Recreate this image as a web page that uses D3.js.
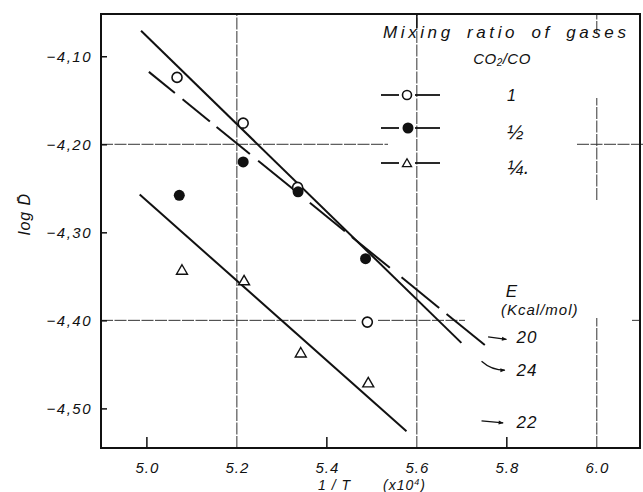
<!DOCTYPE html>
<html><head><meta charset="utf-8">
<script src="https://cdn.jsdelivr.net/npm/d3@7"></script>
<style>
html,body{margin:0;padding:0;background:#fff;}
svg{display:block;}
text{font-family:"Liberation Sans",Arial,sans-serif;font-style:italic;fill:#111;}
</style></head><body>
<svg id="chart" width="643" height="492"></svg>
<script>
// ---- data ----
const ratioLabels = ["1", "\u00BD", "\u00BC."];
const openX   = [5.067, 5.214, 5.335, 5.490];
const openY   = [-4.124, -4.176, -4.249, -4.402];
const filledX = [5.072, 5.214, 5.336, 5.486];
const filledY = [-4.258, -4.220, -4.254, -4.330];
const triX    = [5.078, 5.216, 5.342, 5.492];
const triY    = [-4.344, -4.356, -4.438, -4.472];
const lineOpenX = [4.987, 5.699];
const lineOpenY = [-4.071, -4.4256];
const lineFilledX = [5.004, 5.751];
const lineFilledY = [-4.1176, -4.428];
const lineFilledDashes = [[5.0044,5.0622],[5.0793,5.140],[5.1549,5.2289],[5.2473,5.3289],[5.3622,5.440],[5.4556,5.540],[5.566,5.6496],[5.666,5.7511]];
const lineTriX = [4.984, 5.577];
const lineTriY = [-4.257, -4.526];
const xTicks = [5.0, 5.2, 5.4, 5.6, 5.8, 6.0];
const xMinorTicks = [5.0, 5.4, 5.8];
const yTicks = [-4.1, -4.2, -4.3, -4.4, -4.5];
const xGrid = [5.2, 5.6, 6.0];
const yGrid = [-4.2, -4.4];
const energyLabels = ["20", "24", "22"];
const energyArrowX0 = [5.7584, 5.7438, 5.7438];
const energyArrowY0 = [-4.4188, -4.4464, -4.5143];
const energyArrowX1 = [5.7991, 5.7956, 5.7918];
const energyArrowY1 = [-4.4217, -4.4566, -4.5165];
const energyLabelX = 5.8216;
const energyLabelY = [-4.4259, -4.4634, -4.5225];

// ---- scales ----
const x = d3.scaleLinear().domain([4.898, 6.096]).range([101, 640]);
const y = d3.scaleLinear().domain([-4.545, -4.052]).range([448, 14]);
const svg = d3.select("#chart");

svg.append("defs").append("marker")
  .attr("id","ah").attr("viewBox","0 0 10 10").attr("refX",9).attr("refY",5)
  .attr("markerWidth",7).attr("markerHeight",5).attr("markerUnits","userSpaceOnUse")
  .attr("orient","auto")
  .append("path").attr("d","M0,1 L10,5 L0,9 Z").attr("fill","#111");

// ---- gridlines (interrupted where the reference leaves gaps) ----
const grid = svg.append("g").attr("stroke","#333").attr("stroke-width",1).attr("stroke-dasharray","12 1.5");
const [yb, yt] = y.domain();
const [xl, xr] = x.domain();
const vSegs = [
  [xGrid[0], yb, yt], [xGrid[1], yb, yt],
  [xGrid[2], yb, y.invert(318)], [xGrid[2], y.invert(200), y.invert(98)], [xGrid[2], y.invert(33), yt]
];
vSegs.forEach(s => grid.append("line").attr("x1", x(s[0])).attr("x2", x(s[0])).attr("y1", y(s[1])).attr("y2", y(s[2])));
const hSegs = [
  [yGrid[0], xl, x.invert(388)], [yGrid[0], x.invert(577), x.invert(643)],
  [yGrid[1], xl, x.invert(357)], [yGrid[1], x.invert(378), x.invert(465)], [yGrid[1], x.invert(632), xr]
];
hSegs.forEach(s => grid.append("line").attr("y1", y(s[0])).attr("y2", y(s[0])).attr("x1", x(s[1])).attr("x2", x(s[2])));

// ---- frame ----
svg.append("rect").attr("x", x.range()[0]).attr("y", y.range()[1])
  .attr("width", x.range()[1]-x.range()[0]).attr("height", y.range()[0]-y.range()[1])
  .attr("fill","none").attr("stroke","#111").attr("stroke-width",2);

// ---- axes ----
const yAxis = d3.axisLeft(y).tickValues(yTicks).tickSizeInner(-6).tickSizeOuter(0).tickPadding(9)
  .tickFormat(d => "\u2212" + Math.abs(d).toFixed(2).replace(".", ","));
const gy = svg.append("g").attr("transform", `translate(${x.range()[0]},0)`).call(yAxis);
gy.select(".domain").remove();
gy.selectAll("line").attr("stroke","#111").attr("stroke-width",1.5);
gy.selectAll("text").attr("font-size",15).attr("letter-spacing",1.5).attr("fill","#111");

const xAxis = d3.axisBottom(x).tickValues(xTicks).tickSizeInner(0).tickSizeOuter(0).tickPadding(14)
  .tickFormat(d => d.toFixed(1));
const gx = svg.append("g").attr("transform", `translate(0,${y.range()[0]})`).call(xAxis);
gx.select(".domain").remove();
gx.selectAll("text").attr("font-size",15).attr("letter-spacing",1).attr("fill","#111");
svg.append("g").selectAll("line").data(xMinorTicks).join("line")
  .attr("x1", d => x(d)).attr("x2", d => x(d)).attr("y1", y.range()[0]).attr("y2", y.range()[0]-11)
  .attr("stroke","#111").attr("stroke-width",1.5);
svg.append("line").attr("x1", x(5.6)).attr("x2", x(5.6)).attr("y1", y.range()[1]).attr("y2", y.range()[1]+14)
  .attr("stroke","#111").attr("stroke-width",1.5);

// axis titles
svg.append("text").attr("transform","translate(30,214) rotate(-90)").attr("text-anchor","middle")
  .attr("font-size",16).attr("letter-spacing",1).text("log D\u0304");
const xt = svg.append("text").attr("y",490).attr("font-size",14).attr("letter-spacing",1);
xt.append("tspan").attr("x",318).text("1 / T");
xt.append("tspan").attr("x",383).text("(x10");
xt.append("tspan").attr("font-size",9).attr("dy",-5).text("4");
xt.append("tspan").attr("dy",5).text(")");

// ---- fitted lines ----
const lines = svg.append("g").attr("stroke","#111").attr("stroke-width",2).attr("fill","none");
lines.append("line").attr("x1", x(lineOpenX[0])).attr("y1", y(lineOpenY[0])).attr("x2", x(lineOpenX[1])).attr("y2", y(lineOpenY[1]));
lines.append("line").attr("x1", x(lineTriX[0])).attr("y1", y(lineTriY[0])).attr("x2", x(lineTriX[1])).attr("y2", y(lineTriY[1]));
const fy = xv => lineFilledY[0] + (xv - lineFilledX[0]) * (lineFilledY[1]-lineFilledY[0])/(lineFilledX[1]-lineFilledX[0]);
lines.selectAll(".dash").data(lineFilledDashes).join("line").attr("class","dash")
  .attr("x1", d => x(d[0])).attr("y1", d => y(fy(d[0]))).attr("x2", d => x(d[1])).attr("y2", d => y(fy(d[1])));

// ---- points ----
const pts = svg.append("g");
pts.selectAll(".op").data(openX).join("circle").attr("class","op")
  .attr("cx", d => x(d)).attr("cy", (d,i) => y(openY[i])).attr("r",5)
  .attr("fill","#fff").attr("stroke","#111").attr("stroke-width",1.6);
pts.selectAll(".fp").data(filledX).join("circle").attr("class","fp")
  .attr("cx", d => x(d)).attr("cy", (d,i) => y(filledY[i])).attr("r",5.5).attr("fill","#111");
const tri = d3.symbol().type(d3.symbolTriangle).size(52);
pts.selectAll(".tp").data(triX).join("path").attr("class","tp")
  .attr("transform", (d,i) => `translate(${x(d)},${y(triY[i])})`).attr("d", tri)
  .attr("fill","#fff").attr("stroke","#111").attr("stroke-width",1.4);

// ---- legend ----
const lg = svg.append("g");
lg.append("text").attr("x",383).attr("y",38).attr("font-size",17)
  .attr("letter-spacing",3.6).attr("word-spacing",5).text("Mixing ratio of gases");
const co = lg.append("text").attr("x",502).attr("y",64).attr("font-size",15).attr("text-anchor","middle").attr("letter-spacing",0.5);
co.append("tspan").text("CO");
co.append("tspan").attr("font-size",10).attr("dy",2).text("2");
co.append("tspan").attr("dy",-2).text("/CO");
const rowsY = [95, 128, 163];
const lgLine = lg.append("g").attr("stroke","#111").attr("stroke-width",1.8);
rowsY.forEach(ry => {
  lgLine.append("line").attr("x1",381).attr("x2",399).attr("y1",ry).attr("y2",ry);
  lgLine.append("line").attr("x1",415).attr("x2",440).attr("y1",ry).attr("y2",ry);
});
lg.append("circle").attr("cx",407).attr("cy",rowsY[0]).attr("r",4.5).attr("fill","#fff").attr("stroke","#111").attr("stroke-width",1.6);
lg.append("circle").attr("cx",408).attr("cy",rowsY[1]).attr("r",5.5).attr("fill","#111");
lg.append("path").attr("transform",`translate(407,${rowsY[2]+1})`).attr("d", d3.symbol().type(d3.symbolTriangle).size(36))
  .attr("fill","#fff").attr("stroke","#111").attr("stroke-width",1.3);
lg.selectAll(".rl").data(ratioLabels).join("text").attr("class","rl")
  .attr("x", 507).attr("y", (d,i) => rowsY[i] + [6, 11, 11][i]).attr("font-size", (d,i) => i === 0 ? 16 : 20)
  .text(d => d);

// ---- activation energy annotations ----
svg.append("text").attr("x", x(5.8104)).attr("y", y(-4.3733)).attr("text-anchor","middle").attr("font-size",17).text("E");
svg.append("text").attr("x", x(5.8733)).attr("y", y(-4.3941)).attr("text-anchor","middle").attr("font-size",15)
  .attr("letter-spacing",1).text("(Kcal/mol)");
const ann = svg.append("g");
energyLabels.forEach((lab, i) => {
  const x0 = x(energyArrowX0[i]), y0 = y(energyArrowY0[i]), x1 = x(energyArrowX1[i]), y1 = y(energyArrowY1[i]);
  const path = i === 1
    ? `M${x0},${y0} Q${x0+10},${y1} ${x1},${y1}`
    : `M${x0},${y0} L${x1},${y1}`;
  ann.append("path").attr("d", path).attr("fill","none").attr("stroke","#111").attr("stroke-width",1.3).attr("marker-end","url(#ah)");
  ann.append("text").attr("x", x(energyLabelX)).attr("y", y(energyLabelY[i])).attr("font-size",17).attr("letter-spacing",1).text(lab);
});
</script>
</body></html>
